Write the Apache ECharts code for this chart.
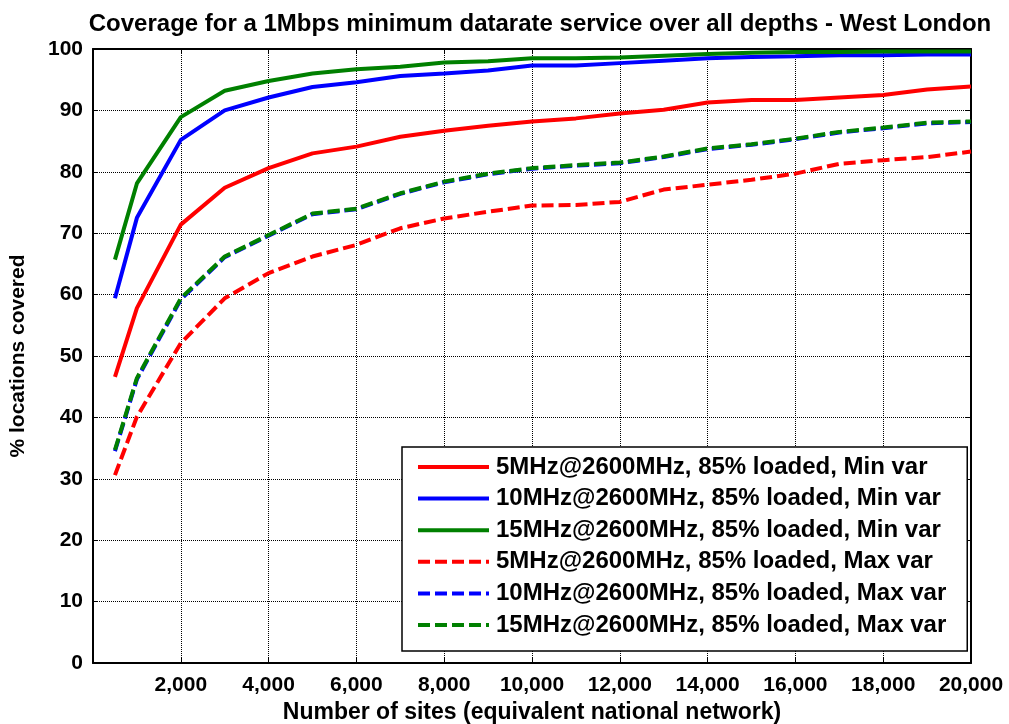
<!DOCTYPE html>
<html><head><meta charset="utf-8">
<script src="https://cdn.jsdelivr.net/npm/echarts@6/dist/echarts.min.js"></script>
<style>html,body{margin:0;padding:0;background:#fff}#c{width:1009px;height:724px}</style>
</head><body><div id="c"></div>
<script>
const sites = [500,1000,2000,3000,4000,5000,6000,7000,8000,9000,10000,11000,12000,13000,14000,15000,16000,17000,18000,19000,20000];
const s5Min  = [46.6,57.8,71.4,77.4,80.6,83.0,84.1,85.7,86.7,87.5,88.2,88.7,89.5,90.1,91.3,91.7,91.7,92.1,92.5,93.4,93.9];
const s10Min = [59.4,72.5,85.2,90.0,92.1,93.8,94.6,95.6,96.0,96.5,97.3,97.3,97.7,98.1,98.5,98.7,98.8,99.0,99.0,99.1,99.1];
const s15Min = [65.7,78.1,88.9,93.2,94.8,96.0,96.7,97.1,97.8,98.0,98.5,98.5,98.6,98.9,99.2,99.4,99.5,99.5,99.6,99.6,99.6];
const s5Max  = [30.6,40.1,52.1,59.4,63.5,66.2,68.1,70.8,72.4,73.5,74.5,74.6,75.1,77.1,77.9,78.7,79.7,81.3,81.9,82.4,83.3];
const s10Max = [34.5,46.2,59.2,66.1,69.6,73.1,73.9,76.4,78.3,79.6,80.5,81.0,81.4,82.4,83.7,84.4,85.3,86.4,87.1,87.9,88.1];
const s15Max = [34.7,46.4,59.4,66.2,69.7,73.2,74.0,76.5,78.4,79.7,80.6,81.1,81.5,82.5,83.8,84.5,85.4,86.5,87.2,88.0,88.2];
const names = ['5MHz@2600MHz, 85% loaded, Min var','10MHz@2600MHz, 85% loaded, Min var','15MHz@2600MHz, 85% loaded, Min var','5MHz@2600MHz, 85% loaded, Max var','10MHz@2600MHz, 85% loaded, Max var','15MHz@2600MHz, 85% loaded, Max var'];
const yTicks = [0,10,20,30,40,50,60,70,80,90,100];

const F = 'Arial, "Liberation Sans", sans-serif';
const DASH = [12,5];
function mk(name, vals, color, dashed){
  return {name, type:'line', data: sites.map((x,i)=>[x,vals[i]]), symbol:'none', showSymbol:false,
    lineStyle:{color, width:4, type: dashed ? DASH : 'solid'}, itemStyle:{color}, z: 3, animation:false};
}
const chart = echarts.init(document.getElementById('c'));
const axLine = {show:true, onZero:false, lineStyle:{color:'#000', width:2}};
const axTick = {show:true, inside:true, length:5, lineStyle:{color:'#000', width:1}};
chart.setOption({
  animation:false,
  title:{text:'Coverage for a 1Mbps minimum datarate service over all depths - West London', left:535, textAlign:'center', top:7,
    textStyle:{fontFamily:F, fontSize:24, fontWeight:'bold', color:'#000'}},
  grid:{left:93, top:49, right:38, bottom:61, containLabel:false, outerBoundsMode:'none'},
  legend:{orient:'vertical', left:402, top:447, itemWidth:71, itemHeight:14, itemGap:7.6,
    padding:[8,21,14,14], backgroundColor:'#fff', borderColor:'#000', borderWidth:1.5,
    itemStyle:{opacity:0}, lineStyle:{width:4},
    textStyle:{fontFamily:F, fontSize:24, lineHeight:24, fontWeight:'bold', color:'#000', padding:[0,0,0,2]}, data:names},
  xAxis:[
    {type:'value', min:0, max:20000, interval:2000, position:'bottom',
      name:'Number of sites (equivalent national network)', nameLocation:'middle', nameGap:38,
      nameTextStyle:{fontFamily:F, fontSize:23, fontWeight:'bold', color:'#000'},
      axisLabel:{fontFamily:F, fontSize:21, fontWeight:'bold', color:'#000', margin:12,
        formatter:v=> v===0 ? '' : v.toLocaleString('en-US')},
      axisLine:axLine, axisTick:axTick,
      splitLine:{show:true, lineStyle:{color:'#000', type:[1,1], width:1}}},
    {type:'value', min:0, max:20000, interval:2000, position:'top', axisLabel:{show:false},
      axisLine:axLine, axisTick:axTick, splitLine:{show:false}}
  ],
  yAxis:[
    {type:'value', min:0, max:100, interval:10, position:'left',
      name:'% locations covered', nameLocation:'middle', nameGap:64, nameRotate:90,
      nameTextStyle:{fontFamily:F, fontSize:21, fontWeight:'bold', color:'#000'},
      axisLabel:{fontFamily:F, fontSize:21, fontWeight:'bold', color:'#000', margin:10,
        formatter:v=> yTicks.includes(v) ? String(v) : ''},
      axisLine:axLine, axisTick:axTick,
      splitLine:{show:true, lineStyle:{color:'#000', type:[1,1], width:1}}},
    {type:'value', min:0, max:100, interval:10, position:'right', axisLabel:{show:false},
      axisLine:axLine, axisTick:axTick, splitLine:{show:false}}
  ],
  series:[
    mk(names[0], s5Min, '#ff0000', false),
    mk(names[1], s10Min, '#0000ff', false),
    mk(names[2], s15Min, '#008000', false),
    mk(names[3], s5Max, '#ff0000', true),
    mk(names[4], s10Max, '#0000ff', true),
    mk(names[5], s15Max, '#008000', true)
  ]
});
</script></body></html>
